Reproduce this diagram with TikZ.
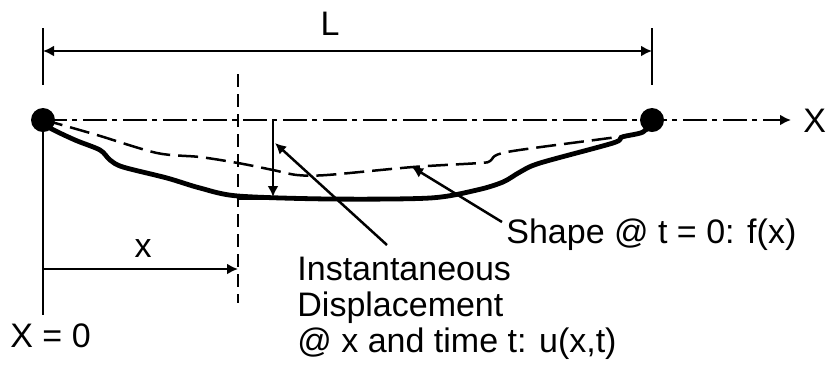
\documentclass[tikz,border=0pt]{standalone}
\usepackage{fontspec}
\setmainfont{Liberation Sans}
\usetikzlibrary{arrows.meta}
\begin{document}
\begin{tikzpicture}[x=0.5pt,y=-0.5pt,>={Latex[length=5.5pt,width=5.5pt]},
  lbl/.style={inner sep=0pt,font=\fontsize{17}{18}\selectfont},
  pindot/.style={circle,fill,inner sep=0pt,minimum size=12pt},
  dimln/.style={line width=1.25pt}]
\useasboundingbox (0,0) rectangle (828,372);
\node[pindot] (A) at (43,120) {};
\node[pindot] (B) at (652,120) {};
\coordinate (Xend) at (791,120);
\node[lbl,anchor=base west] (Xlab) at (803,132) {X};
\draw[dimln,dash pattern=on 12pt off 2.5pt on 2.5pt off 3pt,->] (A.center) -- (Xend);
% span L
\coordinate (Ltop) at (43,28);
\coordinate (Lbot) at (43,85);
\coordinate (Rtop) at (652,28);
\coordinate (Rbot) at (652,85);
\coordinate (L1) at (43,51);
\coordinate (L2) at (652,51);
\draw[dimln] (Ltop) -- (Lbot);
\draw[dimln] (Rtop) -- (Rbot);
\draw[dimln,<->] (L1) -- (L2);
\node[lbl,anchor=base] (Llab) at (330,35) {L};
% position x
\coordinate (Zbot) at (43,315);
\draw[dimln] (A.center) -- (Zbot);
\node[lbl,anchor=base west] (Zlab) at (10,347) {X = 0};
\coordinate (Vtop) at (238,74);
\coordinate (Vbot) at (238,303);
\draw[dimln,dash pattern=on 6.5pt off 3.5pt] (Vtop) -- (Vbot);
\coordinate (xs) at (43,269);
\coordinate (xe) at (238,269);
\draw[dimln,->] (xs) -- (xe);
\node[lbl,anchor=base] (xlab) at (143,257) {x};
% shapes
\draw[line width=2.4pt,line join=round] plot[smooth,tension=0.5] coordinates {(43,121) (50,128) (75,140) (100,150) (110,160) (123,167) (167,178) (200,188) (238,196) (330,199) (430,198) (477,190) (503,182) (520,172) (540,163) (613,143) (622,137) (643,132) (652,121)};
\draw[dimln,dash pattern=on 10pt off 4pt] plot[smooth,tension=0.5] coordinates {(43,120) (55,123) (97,135) (157,153) (200,157) (238,163) (273,170) (297,175) (327,175) (413,167) (480,163) (490,161) (507,152) (617,137) (645,132) (652,121)};
% displacement
\coordinate (utop) at (273,121);
\coordinate (ubot) at (273,197);
\draw[dimln,->] (utop) -- (ubot);
\coordinate (h1) at (238,199);
\coordinate (h2) at (330,199);
\draw[line width=0.8pt] (h1) -- (h2);
% labels
\node[lbl,anchor=north west,align=left] (inst) at (297,257) {Instantaneous\\Displacement\\@ x and time t: u(x,t)};
\node[lbl,anchor=base west] (shape) at (506,243) {Shape @ t = 0: f(x)};
\coordinate (ipt) at (387,245);
\coordinate (disptip) at (275,143);
\coordinate (spt) at (502,222);
\coordinate (shapetip) at (412,167);
\draw[dimln,->] (ipt) -- (disptip);
\draw[dimln,->] (spt) -- (shapetip);
\end{tikzpicture}
\end{document}
